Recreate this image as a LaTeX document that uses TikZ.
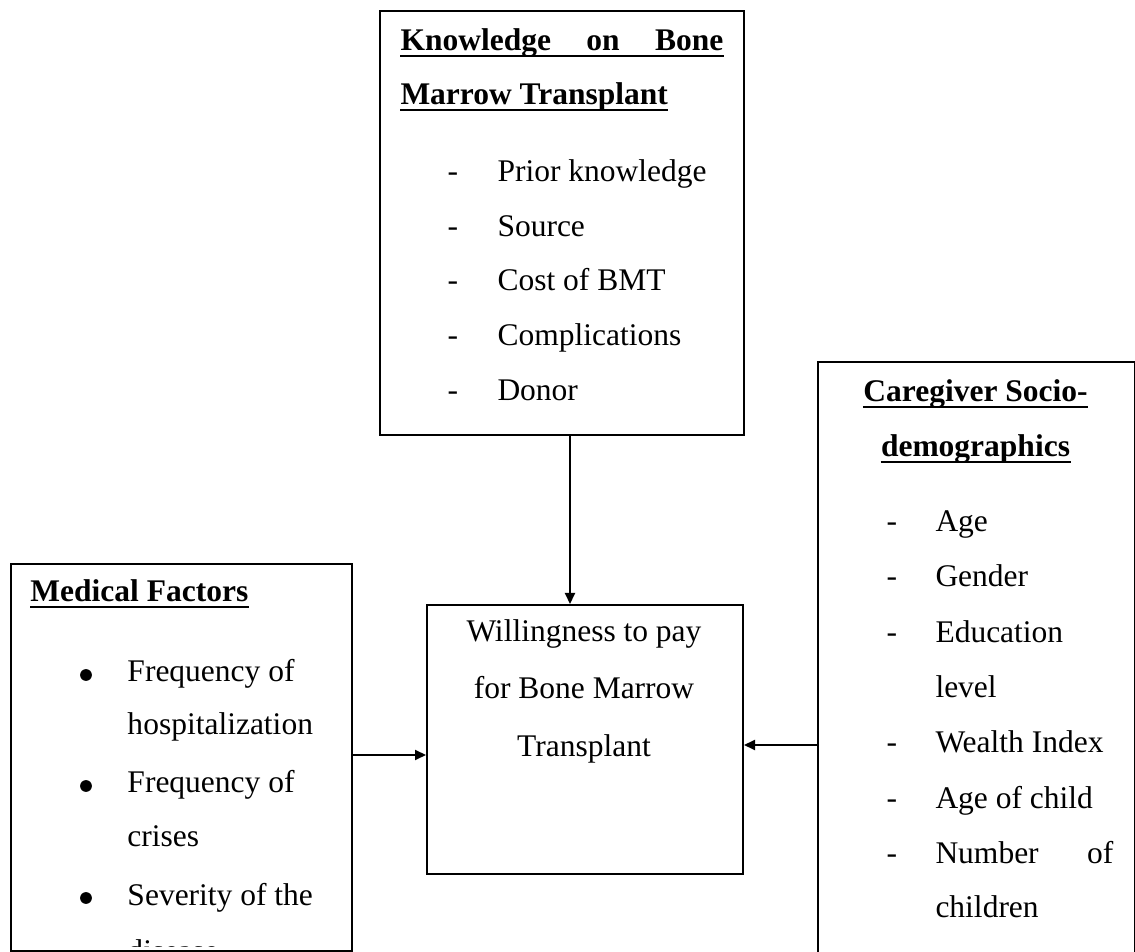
\documentclass[tikz,border=0pt]{standalone}
\usepackage{fontspec}
\setmainfont{Liberation Serif}
\usetikzlibrary{arrows.meta}
\begin{document}
\begin{tikzpicture}[x=0.4pt,y=-0.4pt,
  box/.style={draw=black,line width=0.8pt,rectangle,inner sep=0pt,anchor=north west},
  txt/.style={anchor=base west,inner sep=0pt,font=\fontsize{12.6pt}{15pt}\selectfont},
  ctxt/.style={anchor=base,inner sep=0pt,font=\fontsize{12.6pt}{15pt}\selectfont},
  head/.style={txt,font=\fontsize{12.6pt}{15pt}\selectfont\bfseries},
  chead/.style={ctxt,font=\fontsize{12.6pt}{15pt}\selectfont\bfseries},
  bul/.style={circle,fill=black,inner sep=0pt,minimum size=4.7pt},
  uline/.style={line width=0.8pt},
  arr/.style={line width=0.8pt,-{Triangle[length=4.4pt,width=4pt]}}]
\useasboundingbox (0,0) rectangle (1135,952);
\clip (0,0) rectangle (1135,952);

% boxes
\node[box,minimum width=145.6pt,minimum height=169.6pt] (kb) at (379,10) {};
\node[box,minimum width=126.8pt,minimum height=250pt] (cs) at (817,361) {};
\node[box,minimum width=136.4pt,minimum height=154.8pt] (mf) at (10,563) {};
\node[box,minimum width=126.4pt,minimum height=107.6pt] (wb) at (426,604) {};

% Knowledge box
\node[head] (k1) at (400,51) {\makebox[129.2pt][s]{Knowledge on Bone}};
\node[head] (k2) at (400,105) {Marrow Transplant};
\draw[uline] ([yshift=-2pt]k1.base west) -- ([yshift=-2pt]k1.base east);
\draw[uline] ([yshift=-2pt]k2.base west) -- ([yshift=-2pt]k2.base east);
\foreach \yy/\tt [count=\i] in {182/Prior knowledge,236.5/Source,291/Cost of BMT,345.5/Complications,400.5/Donor}{
  \node[txt] (kd\i) at (447,\yy) {-};
  \node[txt] (ki\i) at (497,\yy) {\tt};
}

% Caregiver box
\node[chead] (c1) at (975.5,402) {Caregiver Socio-};
\node[chead] (c2) at (975.5,457) {demographics};
\draw[uline] ([yshift=-2pt]c1.base west) -- ([yshift=-2pt]c1.base east);
\draw[uline] ([yshift=-2pt]c2.base west) -- ([yshift=-2pt]c2.base east);
\foreach \yy/\tt [count=\i] in {532/Age,587/Gender,643/Education,753/Wealth Index,808/Age of child}{
  \node[txt] (cd\i) at (886,\yy) {-};
  \node[txt] (ci\i) at (935,\yy) {\tt};
}
\node[txt] (cl) at (935,698) {level};
\node[txt] (cd6) at (886,863) {-};
\node[txt] (cn) at (935,863) {\makebox[71.2pt][s]{Number of}};
\node[txt] (cch) at (935,918) {children};

% Medical box
\node[head] (m1) at (30,602) {Medical Factors};
\draw[uline] ([yshift=-2pt]m1.base west) -- ([yshift=-2pt]m1.base east);
\node[bul] (mb1) at (86,675) {};
\node[txt] (mi1) at (127,682) {Frequency of};
\node[txt] (mi2) at (127,735) {hospitalization};
\node[bul] (mb2) at (86,786) {};
\node[txt] (mi3) at (127,793) {Frequency of};
\node[txt] (mi4) at (127,847) {crises};
\node[bul] (mb3) at (86,898) {};
\node[txt] (mi5) at (127,905) {Severity of the};
\begin{scope}
  \clip (12,565) rectangle (349,946);
  \node[txt] (mi6) at (127,962) {disease};
\end{scope}

% Willingness box
\node[ctxt] (w1) at (584,642) {Willingness to pay};
\node[ctxt] (w2) at (584,699) {for Bone Marrow};
\node[ctxt] (w3) at (584,756) {Transplant};

% connectors
\coordinate (vx) at (570,0);
\coordinate (ly) at (0,755);
\coordinate (ry) at (0,745);
\draw[arr] (kb.south -| vx) -- (wb.north -| vx);
\draw[arr] (mf.east |- ly) -- (wb.west |- ly);
\draw[arr] (cs.west |- ry) -- (wb.east |- ry);
\end{tikzpicture}
\end{document}
